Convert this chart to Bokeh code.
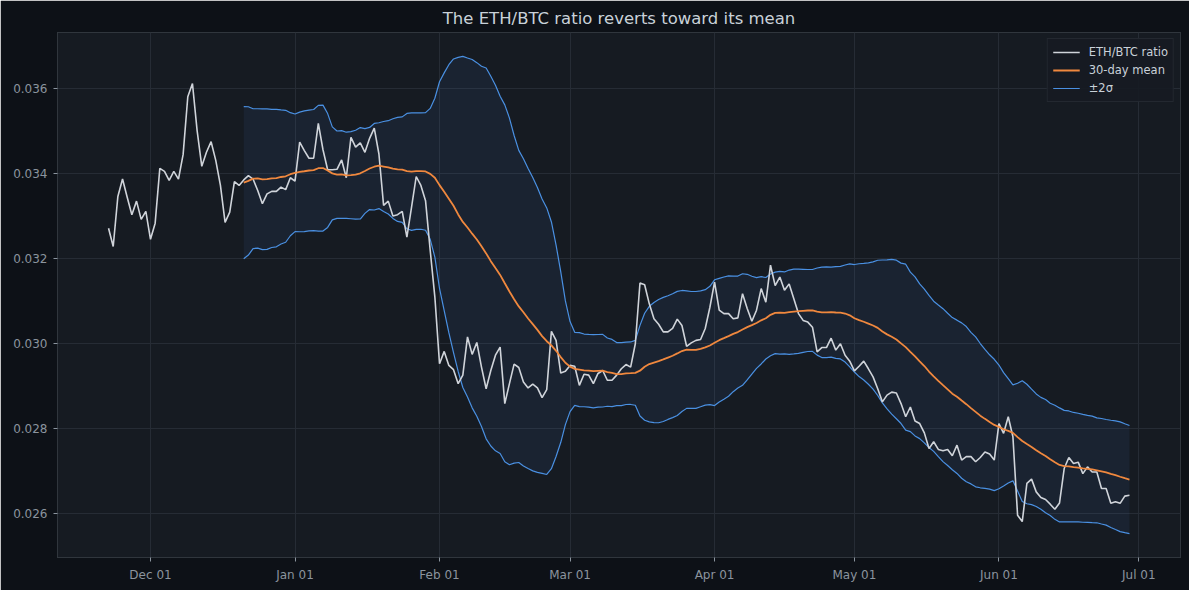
import numpy as np
import pandas as pd
from bokeh.plotting import figure
from bokeh.models import (Range1d, FixedTicker, DatetimeTickFormatter, PrintfTickFormatter,
                          Legend, LegendItem, ColumnDataSource)
from bokeh.embed import file_html
from bokeh.resources import INLINE

# ---- data (daily ETH/BTC ratio) ----
start_date = "2022-11-22"
window = 30
ratio = [
    0.03271, 0.03228, 0.03346, 0.03387, 0.03344, 0.03303, 0.03335, 0.03292, 0.03311, 0.03245,
    0.03283, 0.03412, 0.03405, 0.03384, 0.03405, 0.03387, 0.03445, 0.03581, 0.03612, 0.03501,
    0.03417, 0.03450, 0.03475, 0.03431, 0.03372, 0.03285, 0.03309, 0.03381, 0.03372,
    0.03385, 0.03395, 0.03387, 0.03360, 0.03329, 0.03352, 0.03358, 0.03358, 0.03368, 0.03362,
    0.03390, 0.03382, 0.03474, 0.03454, 0.03436, 0.03436, 0.03518, 0.03456, 0.03409, 0.03409,
    0.03410, 0.03432, 0.03390, 0.03485, 0.03462, 0.03472, 0.03450, 0.03483,
    0.03507, 0.03446, 0.03325, 0.03335, 0.03300, 0.03303, 0.03311, 0.03250, 0.03321, 0.03393,
    0.03372, 0.03336, 0.03219, 0.03109, 0.02952, 0.02981, 0.02948, 0.02938, 0.02905, 0.02925,
    0.03015, 0.02974, 0.03002, 0.02944, 0.02893, 0.02936, 0.02972, 0.02991,
    0.02858, 0.02905, 0.02951, 0.02943, 0.02909, 0.02895, 0.02904, 0.02895, 0.02872, 0.02891,
    0.03028, 0.03007, 0.02930, 0.02934, 0.02948, 0.02946, 0.02901, 0.02927, 0.02925, 0.02905,
    0.02929, 0.02936, 0.02913, 0.02913, 0.02925, 0.02940, 0.02950, 0.02944, 0.02999,
    0.03142, 0.03138, 0.03093, 0.03058, 0.03045, 0.03027, 0.03027, 0.03035, 0.03057, 0.03042,
    0.02993, 0.03001, 0.03007, 0.03009, 0.03035, 0.03085, 0.03144, 0.03078, 0.03070, 0.03070,
    0.03058, 0.03060, 0.03117, 0.03082, 0.03052, 0.03078, 0.03129, 0.03097, 0.03184, 0.03136,
    0.03156, 0.03125, 0.03140, 0.03105, 0.03070, 0.03054, 0.03050, 0.03038, 0.02980, 0.02990,
    0.02990, 0.03012, 0.02984, 0.02999, 0.02972, 0.02958, 0.02935, 0.02946, 0.02958, 0.02940,
    0.02921, 0.02893, 0.02862, 0.02878, 0.02885, 0.02883, 0.02858, 0.02827, 0.02850,
    0.02817, 0.02811, 0.02789, 0.02752, 0.02768, 0.02750, 0.02747, 0.02750, 0.02735, 0.02760,
    0.02725, 0.02733, 0.02733, 0.02721, 0.02731, 0.02744, 0.02739, 0.02725, 0.02811, 0.02788,
    0.02827, 0.02780, 0.02595, 0.02580, 0.02670, 0.02680, 0.02650, 0.02637, 0.02632,
    0.02621, 0.02609, 0.02624, 0.02705, 0.02731, 0.02717, 0.02720, 0.02693, 0.02709, 0.02697,
    0.02697, 0.02658, 0.02658, 0.02623, 0.02627, 0.02623, 0.02640, 0.02642,
]
y_ticks = [0.026, 0.028, 0.030, 0.032, 0.034, 0.036]
x_tick_months = ["2022-12-01", "2023-01-01", "2023-02-01", "2023-03-01",
                 "2023-04-01", "2023-05-01", "2023-06-01", "2023-07-01"]
title_text = "The ETH/BTC ratio reverts toward its mean"
labels = ["ETH/BTC ratio", "30-day mean", "±2σ"]

# ---- derived series ----
dates = pd.date_range(start_date, periods=len(ratio), freq="D")
s = pd.Series(ratio, index=dates)
mean = s.rolling(window).mean()
std = s.rolling(window).std()
upper = mean + 2 * std
lower = mean - 2 * std
valid = mean.notna()

src_all = ColumnDataSource(dict(x=dates, y=s.values))
src_band = ColumnDataSource(dict(x=dates[valid], m=mean[valid].values,
                                 up=upper[valid].values, lo=lower[valid].values))

# ranges with 5% padding
span = dates[-1] - dates[0]
x0 = dates[0] - span * 0.05
x1 = dates[-1] + span * 0.05
ymin = min(s.min(), lower.min())
ymax = max(s.max(), upper.max())
yp = (ymax - ymin) * 0.05

BG = "#0d1117"
PLOT_BG = "#161b22"
GRID = "#262c35"
TXT = "#8b949e"
TITLE = "#c9d1d9"
WHITE = "#d0d4da"
ORANGE = "#f0883e"
BLUE = "#4a90e2"
FONT = "DejaVu Sans"

p = figure(width=1189, height=590, x_axis_type="datetime",
           output_backend="svg", toolbar_location=None,
           x_range=Range1d(x0, x1), y_range=Range1d(ymin - yp, ymax + yp),
           background_fill_color=PLOT_BG, border_fill_color=BG,
           min_border_left=57, min_border_right=9, min_border_top=32, min_border_bottom=33)

p.title.text = title_text
p.title.align = "center"
p.title.text_color = TITLE
p.title.text_font = FONT
p.title.text_font_size = "16.5px"
p.title.text_font_style = "normal"

p.outline_line_color = "#30363d"
p.outline_line_width = 1

for ax in (p.xaxis[0], p.yaxis[0]):
    ax.axis_line_color = None
    ax.major_tick_line_color = TXT
    ax.major_tick_out = 4
    ax.major_tick_in = 0
    ax.minor_tick_line_color = None
    ax.major_label_text_color = TXT
    ax.major_label_text_font = FONT
    ax.major_label_text_font_size = "12px"
    ax.major_label_standoff = 6

p.xaxis.ticker = FixedTicker(ticks=[pd.Timestamp(d).value // 10**6 for d in x_tick_months])
p.xaxis.formatter = DatetimeTickFormatter(days="%b %d", months="%b %d", years="%b %d")
p.yaxis.ticker = FixedTicker(ticks=y_ticks)
p.yaxis.formatter = PrintfTickFormatter(format="%.3f")

p.xgrid.grid_line_color = GRID
p.ygrid.grid_line_color = GRID
p.xgrid.grid_line_width = 1
p.ygrid.grid_line_width = 1

p.varea(x="x", y1="lo", y2="up", source=src_band, fill_color=BLUE, fill_alpha=0.08)
r_up = p.line("x", "up", source=src_band, line_color=BLUE, line_width=1.2)
p.line("x", "lo", source=src_band, line_color=BLUE, line_width=1.2)
r_ratio = p.line("x", "y", source=src_all, line_color=WHITE, line_width=1.6)
r_mean = p.line("x", "m", source=src_band, line_color=ORANGE, line_width=1.8)

legend = Legend(items=[LegendItem(label=labels[0], renderers=[r_ratio]),
                       LegendItem(label=labels[1], renderers=[r_mean]),
                       LegendItem(label=labels[2], renderers=[r_up])],
                location="top_right")
legend.background_fill_color = PLOT_BG
legend.background_fill_alpha = 0.9
legend.border_line_color = "#30363d"
legend.border_line_width = 1
legend.label_text_color = TITLE
legend.label_text_font = FONT
legend.label_text_font_size = "11.5px"
legend.glyph_width = 27
legend.glyph_height = 16
legend.label_height = 16
legend.label_standoff = 9
legend.spacing = 2
legend.padding = 5
legend.margin = 6
p.add_layout(legend)

open("out.html", "w").write(file_html(p, INLINE))
